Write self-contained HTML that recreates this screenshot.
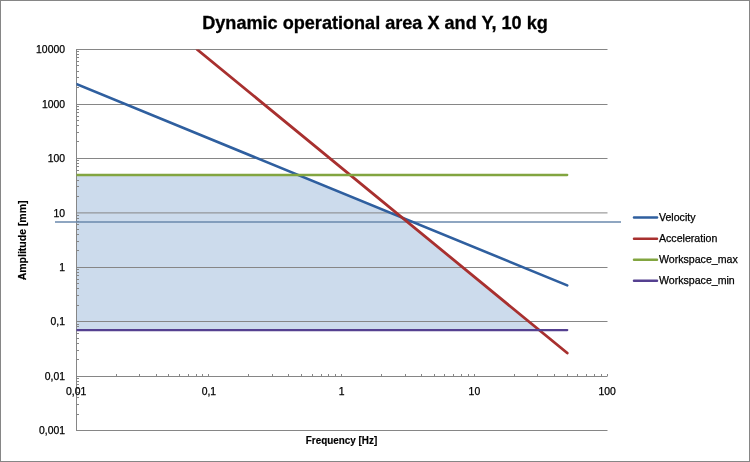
<!DOCTYPE html>
<html><head><meta charset="utf-8"><style>
html,body{margin:0;padding:0;background:#fff;}
body{width:750px;height:462px;overflow:hidden;position:relative;}
svg{position:absolute;left:0;top:0;display:block;will-change:transform;}
text{font-family:"Liberation Sans",sans-serif;fill:#000;}
.tk{font-size:10.4px;stroke:#000;stroke-width:0.25px;}
.lg{font-size:10.6px;stroke:#000;stroke-width:0.25px;}
.tt{font-size:18.1px;font-weight:bold;stroke:#000;stroke-width:0.3px;}
.at{font-size:9.9px;font-weight:bold;stroke:#000;stroke-width:0.15px;}
</style></head><body>
<svg width="750" height="462" viewBox="0 0 750 462">
<rect x="0.5" y="0.5" width="749" height="461" fill="#fff" stroke="#868686" stroke-width="1"/>
<polygon fill="#CCDBEC" points="76.20,174.75 297.50,174.75 402.16,217.66 539.26,330.08 76.20,330.08"/>
<line x1="76.0" y1="49.5" x2="607.5" y2="49.5" stroke="#868686" stroke-width="1"/>
<line x1="76.0" y1="104.5" x2="607.5" y2="104.5" stroke="#868686" stroke-width="1"/>
<line x1="76.0" y1="158.5" x2="607.5" y2="158.5" stroke="#868686" stroke-width="1"/>
<line x1="76.0" y1="212.9" x2="607.5" y2="212.9" stroke="#868686" stroke-width="1"/>
<line x1="76.0" y1="267.5" x2="607.5" y2="267.5" stroke="#868686" stroke-width="1"/>
<line x1="76.0" y1="321.5" x2="607.5" y2="321.5" stroke="#868686" stroke-width="1"/>
<line x1="76.0" y1="376.5" x2="607.5" y2="376.5" stroke="#868686" stroke-width="1"/>
<line x1="76.0" y1="430.5" x2="607.5" y2="430.5" stroke="#868686" stroke-width="1"/>
<line x1="76.5" y1="49.0" x2="76.5" y2="431.0" stroke="#868686" stroke-width="1"/>
<line x1="77" y1="414.5" x2="79" y2="414.5" stroke="#868686" stroke-width="1"/>
<line x1="77" y1="404.5" x2="79" y2="404.5" stroke="#868686" stroke-width="1"/>
<line x1="77" y1="397.5" x2="79" y2="397.5" stroke="#868686" stroke-width="1"/>
<line x1="77" y1="392.5" x2="79" y2="392.5" stroke="#868686" stroke-width="1"/>
<line x1="77" y1="388.5" x2="79" y2="388.5" stroke="#868686" stroke-width="1"/>
<line x1="77" y1="384.5" x2="79" y2="384.5" stroke="#868686" stroke-width="1"/>
<line x1="77" y1="381.5" x2="79" y2="381.5" stroke="#868686" stroke-width="1"/>
<line x1="77" y1="378.5" x2="79" y2="378.5" stroke="#868686" stroke-width="1"/>
<line x1="77" y1="359.5" x2="79" y2="359.5" stroke="#868686" stroke-width="1"/>
<line x1="77" y1="350.5" x2="79" y2="350.5" stroke="#868686" stroke-width="1"/>
<line x1="77" y1="343.5" x2="79" y2="343.5" stroke="#868686" stroke-width="1"/>
<line x1="77" y1="338.5" x2="79" y2="338.5" stroke="#868686" stroke-width="1"/>
<line x1="77" y1="333.5" x2="79" y2="333.5" stroke="#868686" stroke-width="1"/>
<line x1="77" y1="330.5" x2="79" y2="330.5" stroke="#868686" stroke-width="1"/>
<line x1="77" y1="326.5" x2="79" y2="326.5" stroke="#868686" stroke-width="1"/>
<line x1="77" y1="324.5" x2="79" y2="324.5" stroke="#868686" stroke-width="1"/>
<line x1="77" y1="305.5" x2="79" y2="305.5" stroke="#868686" stroke-width="1"/>
<line x1="77" y1="295.5" x2="79" y2="295.5" stroke="#868686" stroke-width="1"/>
<line x1="77" y1="288.5" x2="79" y2="288.5" stroke="#868686" stroke-width="1"/>
<line x1="77" y1="283.5" x2="79" y2="283.5" stroke="#868686" stroke-width="1"/>
<line x1="77" y1="279.5" x2="79" y2="279.5" stroke="#868686" stroke-width="1"/>
<line x1="77" y1="275.5" x2="79" y2="275.5" stroke="#868686" stroke-width="1"/>
<line x1="77" y1="272.5" x2="79" y2="272.5" stroke="#868686" stroke-width="1"/>
<line x1="77" y1="269.5" x2="79" y2="269.5" stroke="#868686" stroke-width="1"/>
<line x1="77" y1="250.5" x2="79" y2="250.5" stroke="#868686" stroke-width="1"/>
<line x1="77" y1="241.5" x2="79" y2="241.5" stroke="#868686" stroke-width="1"/>
<line x1="77" y1="234.5" x2="79" y2="234.5" stroke="#868686" stroke-width="1"/>
<line x1="77" y1="229.5" x2="79" y2="229.5" stroke="#868686" stroke-width="1"/>
<line x1="77" y1="224.5" x2="79" y2="224.5" stroke="#868686" stroke-width="1"/>
<line x1="77" y1="221.5" x2="79" y2="221.5" stroke="#868686" stroke-width="1"/>
<line x1="77" y1="218.5" x2="79" y2="218.5" stroke="#868686" stroke-width="1"/>
<line x1="77" y1="215.5" x2="79" y2="215.5" stroke="#868686" stroke-width="1"/>
<line x1="77" y1="196.5" x2="79" y2="196.5" stroke="#868686" stroke-width="1"/>
<line x1="77" y1="186.5" x2="79" y2="186.5" stroke="#868686" stroke-width="1"/>
<line x1="77" y1="180.5" x2="79" y2="180.5" stroke="#868686" stroke-width="1"/>
<line x1="77" y1="174.5" x2="79" y2="174.5" stroke="#868686" stroke-width="1"/>
<line x1="77" y1="170.5" x2="79" y2="170.5" stroke="#868686" stroke-width="1"/>
<line x1="77" y1="166.5" x2="79" y2="166.5" stroke="#868686" stroke-width="1"/>
<line x1="77" y1="163.5" x2="79" y2="163.5" stroke="#868686" stroke-width="1"/>
<line x1="77" y1="160.5" x2="79" y2="160.5" stroke="#868686" stroke-width="1"/>
<line x1="77" y1="141.5" x2="79" y2="141.5" stroke="#868686" stroke-width="1"/>
<line x1="77" y1="132.5" x2="79" y2="132.5" stroke="#868686" stroke-width="1"/>
<line x1="77" y1="125.5" x2="79" y2="125.5" stroke="#868686" stroke-width="1"/>
<line x1="77" y1="120.5" x2="79" y2="120.5" stroke="#868686" stroke-width="1"/>
<line x1="77" y1="116.5" x2="79" y2="116.5" stroke="#868686" stroke-width="1"/>
<line x1="77" y1="112.5" x2="79" y2="112.5" stroke="#868686" stroke-width="1"/>
<line x1="77" y1="109.5" x2="79" y2="109.5" stroke="#868686" stroke-width="1"/>
<line x1="77" y1="106.5" x2="79" y2="106.5" stroke="#868686" stroke-width="1"/>
<line x1="77" y1="87.5" x2="79" y2="87.5" stroke="#868686" stroke-width="1"/>
<line x1="77" y1="77.5" x2="79" y2="77.5" stroke="#868686" stroke-width="1"/>
<line x1="77" y1="71.5" x2="79" y2="71.5" stroke="#868686" stroke-width="1"/>
<line x1="77" y1="65.5" x2="79" y2="65.5" stroke="#868686" stroke-width="1"/>
<line x1="77" y1="61.5" x2="79" y2="61.5" stroke="#868686" stroke-width="1"/>
<line x1="77" y1="57.5" x2="79" y2="57.5" stroke="#868686" stroke-width="1"/>
<line x1="77" y1="54.5" x2="79" y2="54.5" stroke="#868686" stroke-width="1"/>
<line x1="77" y1="51.5" x2="79" y2="51.5" stroke="#868686" stroke-width="1"/>
<line x1="116.5" y1="374.0" x2="116.5" y2="376.0" stroke="#868686" stroke-width="1"/>
<line x1="139.5" y1="374.0" x2="139.5" y2="376.0" stroke="#868686" stroke-width="1"/>
<line x1="156.5" y1="374.0" x2="156.5" y2="376.0" stroke="#868686" stroke-width="1"/>
<line x1="168.5" y1="374.0" x2="168.5" y2="376.0" stroke="#868686" stroke-width="1"/>
<line x1="179.5" y1="374.0" x2="179.5" y2="376.0" stroke="#868686" stroke-width="1"/>
<line x1="188.5" y1="374.0" x2="188.5" y2="376.0" stroke="#868686" stroke-width="1"/>
<line x1="196.5" y1="374.0" x2="196.5" y2="376.0" stroke="#868686" stroke-width="1"/>
<line x1="202.5" y1="374.0" x2="202.5" y2="376.0" stroke="#868686" stroke-width="1"/>
<line x1="208.5" y1="374.0" x2="208.5" y2="376.0" stroke="#868686" stroke-width="1"/>
<line x1="248.5" y1="374.0" x2="248.5" y2="376.0" stroke="#868686" stroke-width="1"/>
<line x1="272.5" y1="374.0" x2="272.5" y2="376.0" stroke="#868686" stroke-width="1"/>
<line x1="288.5" y1="374.0" x2="288.5" y2="376.0" stroke="#868686" stroke-width="1"/>
<line x1="301.5" y1="374.0" x2="301.5" y2="376.0" stroke="#868686" stroke-width="1"/>
<line x1="312.5" y1="374.0" x2="312.5" y2="376.0" stroke="#868686" stroke-width="1"/>
<line x1="321.5" y1="374.0" x2="321.5" y2="376.0" stroke="#868686" stroke-width="1"/>
<line x1="328.5" y1="374.0" x2="328.5" y2="376.0" stroke="#868686" stroke-width="1"/>
<line x1="335.5" y1="374.0" x2="335.5" y2="376.0" stroke="#868686" stroke-width="1"/>
<line x1="341.5" y1="374.0" x2="341.5" y2="376.0" stroke="#868686" stroke-width="1"/>
<line x1="381.5" y1="374.0" x2="381.5" y2="376.0" stroke="#868686" stroke-width="1"/>
<line x1="405.5" y1="374.0" x2="405.5" y2="376.0" stroke="#868686" stroke-width="1"/>
<line x1="421.5" y1="374.0" x2="421.5" y2="376.0" stroke="#868686" stroke-width="1"/>
<line x1="434.5" y1="374.0" x2="434.5" y2="376.0" stroke="#868686" stroke-width="1"/>
<line x1="444.5" y1="374.0" x2="444.5" y2="376.0" stroke="#868686" stroke-width="1"/>
<line x1="453.5" y1="374.0" x2="453.5" y2="376.0" stroke="#868686" stroke-width="1"/>
<line x1="461.5" y1="374.0" x2="461.5" y2="376.0" stroke="#868686" stroke-width="1"/>
<line x1="468.5" y1="374.0" x2="468.5" y2="376.0" stroke="#868686" stroke-width="1"/>
<line x1="474.5" y1="374.0" x2="474.5" y2="376.0" stroke="#868686" stroke-width="1"/>
<line x1="514.5" y1="374.0" x2="514.5" y2="376.0" stroke="#868686" stroke-width="1"/>
<line x1="537.5" y1="374.0" x2="537.5" y2="376.0" stroke="#868686" stroke-width="1"/>
<line x1="554.5" y1="374.0" x2="554.5" y2="376.0" stroke="#868686" stroke-width="1"/>
<line x1="567.5" y1="374.0" x2="567.5" y2="376.0" stroke="#868686" stroke-width="1"/>
<line x1="577.5" y1="374.0" x2="577.5" y2="376.0" stroke="#868686" stroke-width="1"/>
<line x1="586.5" y1="374.0" x2="586.5" y2="376.0" stroke="#868686" stroke-width="1"/>
<line x1="594.5" y1="374.0" x2="594.5" y2="376.0" stroke="#868686" stroke-width="1"/>
<line x1="601.5" y1="374.0" x2="601.5" y2="376.0" stroke="#868686" stroke-width="1"/>
<line x1="607.5" y1="374.0" x2="607.5" y2="376.0" stroke="#868686" stroke-width="1"/>
<line x1="55" y1="222.0" x2="621" y2="222.0" stroke="#6A88AC" stroke-width="1.4"/>
<defs><clipPath id="pc"><rect x="76.5" y="49.5" width="600.0" height="400.0"/></clipPath></defs>
<line x1="76.20" y1="84.01" x2="567.24" y2="285.34" stroke="#2F5F9F" stroke-width="2.6" stroke-linecap="round" clip-path="url(#pc)"/>
<line x1="197.10" y1="49.50" x2="567.24" y2="353.02" stroke="#A8302F" stroke-width="2.8" stroke-linecap="round" clip-path="url(#pc)"/>
<line x1="76.20" y1="175.00" x2="567.24" y2="175.00" stroke="#82A540" stroke-width="2.3" stroke-linecap="round" clip-path="url(#pc)"/>
<line x1="76.20" y1="330.08" x2="567.24" y2="330.08" stroke="#554090" stroke-width="2.3" stroke-linecap="round" clip-path="url(#pc)"/>
<line x1="634" y1="217.5" x2="657" y2="217.5" stroke="#2F5F9F" stroke-width="2.5" stroke-linecap="round"/>
<text x="659" y="221.0" class="lg">Velocity</text>
<line x1="634" y1="238.8" x2="657" y2="238.8" stroke="#A8302F" stroke-width="2.5" stroke-linecap="round"/>
<text x="659" y="242.3" class="lg">Acceleration</text>
<line x1="634" y1="259.8" x2="657" y2="259.8" stroke="#82A540" stroke-width="2.5" stroke-linecap="round"/>
<text x="659" y="263.3" class="lg">Workspace_max</text>
<line x1="634" y1="280.8" x2="657" y2="280.8" stroke="#554090" stroke-width="2.5" stroke-linecap="round"/>
<text x="659" y="284.3" class="lg">Workspace_min</text>
<text x="65" y="53.2" class="tk" text-anchor="end">10000</text>
<text x="65" y="107.6" class="tk" text-anchor="end">1000</text>
<text x="65" y="162.1" class="tk" text-anchor="end">100</text>
<text x="65" y="216.5" class="tk" text-anchor="end">10</text>
<text x="65" y="270.9" class="tk" text-anchor="end">1</text>
<text x="65" y="325.3" class="tk" text-anchor="end">0,1</text>
<text x="65" y="379.8" class="tk" text-anchor="end">0,01</text>
<text x="65" y="434.2" class="tk" text-anchor="end">0,001</text>
<text x="76.2" y="394.6" class="tk" text-anchor="middle">0,01</text>
<text x="208.9" y="394.6" class="tk" text-anchor="middle">0,1</text>
<text x="341.7" y="394.6" class="tk" text-anchor="middle">1</text>
<text x="474.4" y="394.6" class="tk" text-anchor="middle">10</text>
<text x="607.2" y="394.6" class="tk" text-anchor="middle">100</text>
<text transform="translate(375,29.2) scale(1,1.06)" class="tt" text-anchor="middle">Dynamic operational area X and Y, 10 kg</text>
<text transform="translate(341.5,443.8) scale(1,1.09)" class="at" text-anchor="middle">Frequency [Hz]</text>
<text transform="translate(26.2,240.4) rotate(-90) scale(1,1.09)" x="0" y="0" class="at" style="font-size:10.5px" text-anchor="middle">Amplitude [mm]</text>
</svg>
</body></html>
